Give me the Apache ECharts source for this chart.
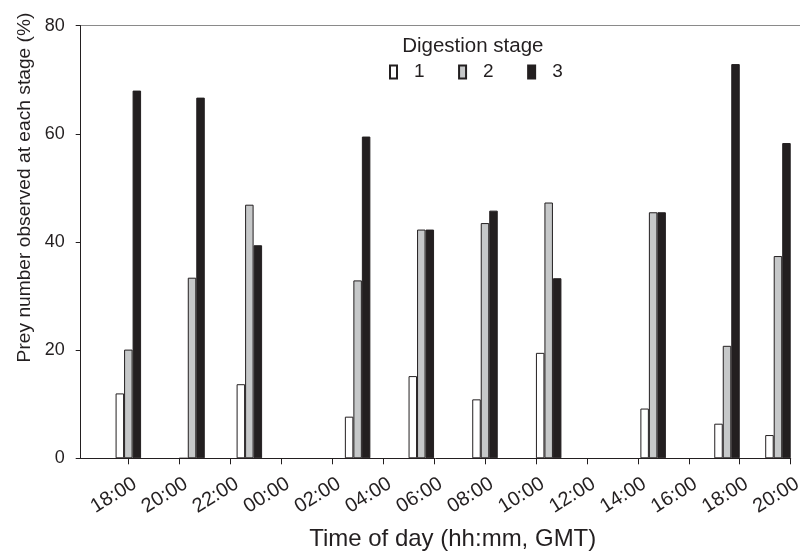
<!DOCTYPE html>
<html>
<head>
<meta charset="utf-8">
<script src="https://cdn.jsdelivr.net/npm/echarts@6/dist/echarts.min.js"></script>
<style>
html,body{margin:0;padding:0;background:#fff;}
#chart{width:800px;height:551px;}
</style>
</head>
<body>
<div id="chart"></div>
<script>
// Sampling times (hours from 00:00 of day 1; 24+ = next day)
const sampleTimes = [18, 20.5, 22.75, 27, 29.5, 32, 34.5, 38.6, 41.5, 43.5];
const stage1 = [12.0, 0, 13.7, 7.7, 15.2, 10.9, 19.5, 9.2, 6.4, 4.3];
const stage2 = [20.1, 33.4, 46.9, 32.9, 42.3, 43.5, 47.3, 45.5, 20.8, 37.4];
const stage3 = [68.0, 66.7, 39.4, 59.5, 42.3, 45.8, 33.3, 45.5, 72.9, 58.3];
const tickValues = [18, 20, 22, 24, 26, 28, 30, 32, 34, 36, 38, 40, 42, 44];
const tickLabels = ['18:00','20:00','22:00','00:00','02:00','04:00','06:00','08:00','10:00','12:00','14:00','16:00','18:00','20:00'];
const yTicks = [0, 20, 40, 60, 80];
const seriesNames = ['1', '2', '3'];

const FONT = '"Liberation Sans", Arial, Helvetica, sans-serif';
const INK = '#231f20';

const chart = echarts.init(document.getElementById('chart'), null, {renderer: 'canvas'});

function pairs(vals) { return sampleTimes.map((t, i) => [t, vals[i]]); }

const fills = ['#ffffff', '#c6c8c9', INK];
const stages = [stage1, stage2, stage3];

chart.setOption({
  animation: false,
  backgroundColor: '#ffffff',
  textStyle: {fontFamily: FONT, color: INK},
  grid: {left: 80.7, right: 9.3, top: 25.7, bottom: 92.7, containLabel: false, outerBoundsMode: 'none'},
  title: {
    text: 'Digestion stage',
    left: 472.8, textAlign: 'center', top: 36, padding: 0,
    textStyle: {fontFamily: FONT, fontSize: 20.5, fontWeight: 'normal', color: INK}
  },
  legend: {
    left: 389, top: 62.5, padding: 0,
    itemWidth: 7, itemHeight: 13, itemGap: 33.5,
    icon: 'rect',
    data: seriesNames,
    textStyle: {fontFamily: FONT, fontSize: 19, color: INK, padding: [0, 0, 0, 12]}
  },
  xAxis: {
    type: 'value',
    min: 16.13, max: 44,
    name: 'Time of day (hh:mm, GMT)',
    nameLocation: 'middle', nameGap: 69,
    nameTextStyle: {fontFamily: FONT, fontSize: 24, color: INK, padding: [0, 0, 0, 34]},
    axisLine: {show: true, onZero: false, lineStyle: {color: INK, width: 1}},
    axisTick: {show: true, length: 6, inside: false, customValues: tickValues, lineStyle: {color: INK}},
    axisLabel: {
      customValues: tickValues, rotate: 32, margin: 28,
      fontFamily: FONT, fontSize: 20, color: INK,
      padding: [0, -8, 0, 0],
      formatter: v => tickLabels[tickValues.indexOf(v)]
    },
    splitLine: {show: false}
  },
  yAxis: {
    type: 'value', min: 0, max: 80, interval: 20,
    name: 'Prey number observed at each stage (%)',
    nameLocation: 'middle', nameGap: 46, nameRotate: 90,
    nameTextStyle: {fontFamily: FONT, fontSize: 19.2, color: INK, padding: [0, 0, 0, 109]},
    axisLine: {show: true, lineStyle: {color: INK, width: 1}},
    axisTick: {show: true, length: 5, lineStyle: {color: INK}},
    axisLabel: {margin: 16, fontFamily: FONT, fontSize: 18, color: INK,
      formatter: v => yTicks.includes(v) ? String(v) : ''},
    splitLine: {show: false}
  },
  graphic: [{
    type: 'line', silent: true, z: 0,
    shape: {x1: 80.5, y1: 25.5, x2: 800, y2: 25.5},
    style: {stroke: '#8a8a8a', lineWidth: 1.2}
  }],
  series: stages.map((vals, i) => ({
    name: seriesNames[i],
    type: 'bar',
    data: pairs(vals),
    barWidth: 8.5,
    barGap: '0%',
    itemStyle: {color: fills[i], borderColor: INK, borderWidth: 1}
  }))
});
</script>
</body>
</html>
